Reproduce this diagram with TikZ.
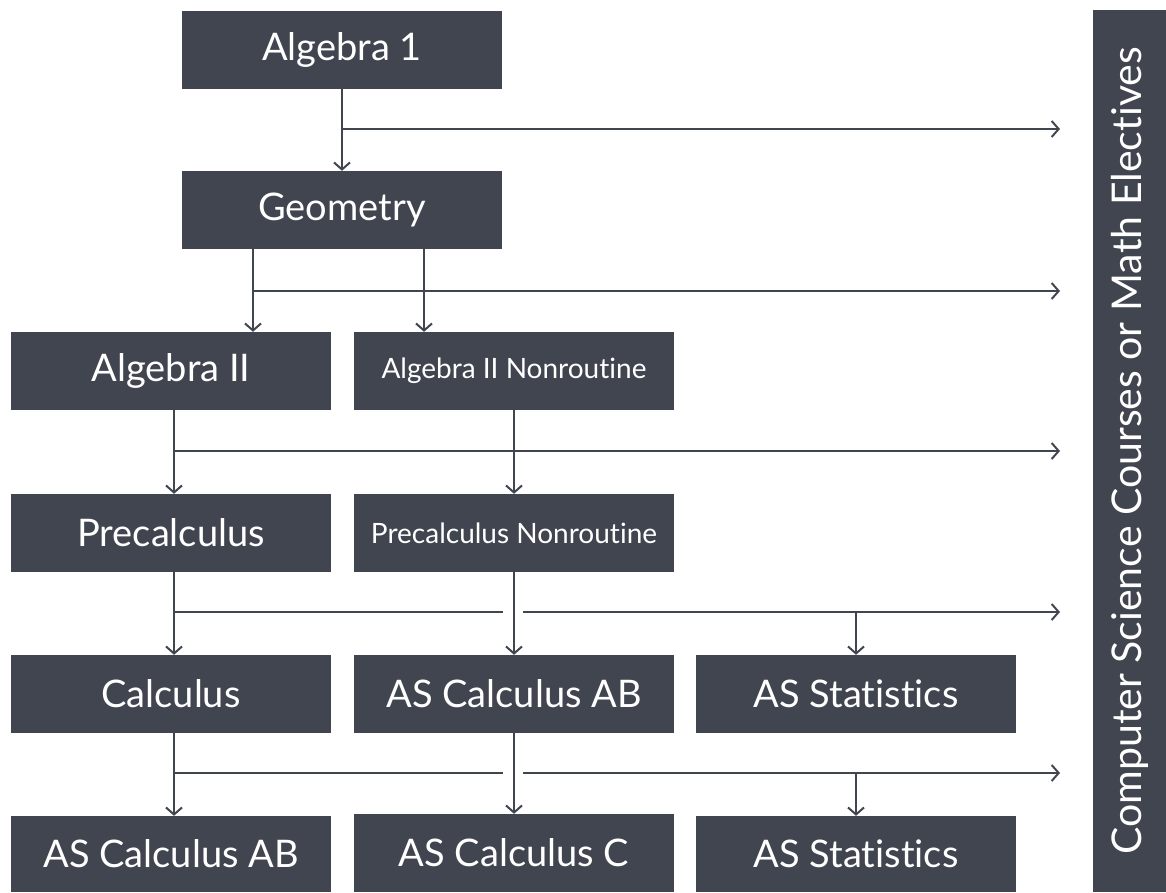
\documentclass[tikz,border=0pt]{standalone}
\usepackage{fontspec}
\setmainfont{Lato}[Ligatures=CommonOff]
\usetikzlibrary{arrows.meta}
\definecolor{slate}{HTML}{41454F}
\tikzset{
  course/.style={fill=slate, text=white, minimum width=320pt, minimum height=78pt,
    inner sep=0pt, font=\fontsize{38}{44}\selectfont},
  smallcourse/.style={course, font=\fontsize{28}{32}\selectfont},
  link/.style={draw=slate, line width=2pt},
}
\begin{document}
\begin{tikzpicture}[x=1pt, y=-1pt, >={Straight Barb[length=7pt,width=16pt]}]
    \useasboundingbox (0,0) rectangle (1166,892);

    % Courses
    \node[course] (alg1) at (342,49.5) {Algebra 1};
    \node[course] (geo) at (342,210) {Geometry};
    \node[course] (alg2) at (171,371) {Algebra II};
    \node[smallcourse] (alg2n) at (514,371) {Algebra II Nonroutine};
    \node[course] (pre) at (171,533) {Precalculus};
    \node[smallcourse] (pren) at (514,533) {Precalculus Nonroutine};
    \node[course] (calc) at (171,694) {Calculus};
    \node[course] (ab1) at (514,694) {AS Calculus AB};
    \node[course] (stat1) at (856,694) {AS Statistics};
    \node[course, minimum height=76pt] (ab2) at (171,854) {AS Calculus AB};
    \node[course, minimum height=78pt] (bc) at (514,853) {AS Calculus C};
    \node[course, minimum height=76pt] (stat2) at (856,854) {AS Statistics};

    % Electives bar
    \node[fill=slate, text=white, rotate=90, minimum width=882pt, minimum height=73pt,
      inner sep=0pt, font=\fontsize{41}{46}\selectfont] (elect) at (1129.5,451)
      {Computer Science Courses or Math Electives};

    % Branch ends
    \coordinate (e1) at (1060,129);
    \coordinate (e2) at (1060,291);
    \coordinate (e3) at (1060,451);
    \coordinate (e4) at (1060,612);
    \coordinate (e5) at (1060,773);

    % Algebra 1 -> Geometry
    \draw[link,->] (alg1) -- (geo);
    \draw[link,->] (alg1.south |- e1) -- (e1);

    % Geometry -> Algebra II
    \draw[link,->] (geo.south -| 253,0) -- (alg2.north -| 253,0);
    \draw[link,->] (geo.south -| 424,0) -- (alg2n.north -| 424,0);
    \draw[link,->] (253,0 |- e2) -- (e2);

    % Algebra II -> Precalculus
    \draw[link,->] ([xshift=3pt]alg2.south) -- ([xshift=3pt]pre.north);
    \draw[link,->] (alg2n) -- (pren);
    \draw[link,->] (174,0 |- e3) -- (e3);

    % Precalculus -> Calculus
    \draw[link,->] ([xshift=3pt]pre.south) -- ([xshift=3pt]calc.north);
    \draw[link,->] (pren) -- (ab1);
    \draw[link] (174,0 |- e4) -- (503,0 |- e4);
    \draw[link,->] (523,0 |- e4) -- (e4);
    \draw[link,->] (stat1.north |- e4) -- (stat1.north);

    % Calculus -> AS
    \draw[link,->] ([xshift=3pt]calc.south) -- ([xshift=3pt]ab2.north);
    \draw[link,->] (ab1) -- (bc);
    \draw[link] (174,0 |- e5) -- (503,0 |- e5);
    \draw[link,->] (523,0 |- e5) -- (e5);
    \draw[link,->] (stat2.north |- e5) -- (stat2.north);
\end{tikzpicture}
\end{document}
